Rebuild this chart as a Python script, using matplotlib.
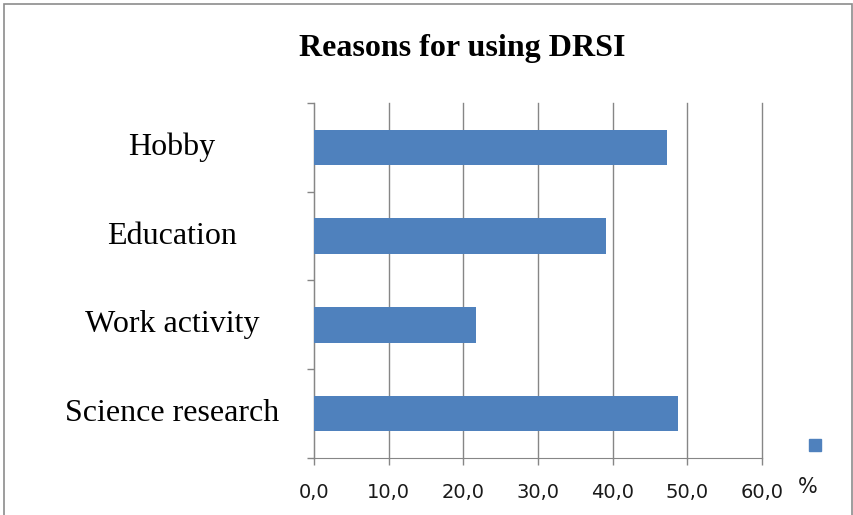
import matplotlib
matplotlib.use('Agg')
import matplotlib.pyplot as plt
from matplotlib.lines import Line2D
from matplotlib.patches import Rectangle

# survey shares, bottom category first
reasons = ['Science research', 'Work activity', 'Education', 'Hobby']
percent = [48.7, 21.7, 39.1, 47.3]
xticks = [0, 10, 20, 30, 40, 50, 60]
xticklabels = ['0,0', '10,0', '20,0', '30,0', '40,0', '50,0', '60,0']

bar_color = '#4F81BD'
line_color = '#868686'

fig = plt.figure(figsize=(8.54, 5.15), dpi=100)
ax = fig.add_axes([0.3677, 0.1107, 0.5246, 0.6893])

ypos = list(range(len(reasons)))
ax.barh(ypos, percent, height=0.4, color=bar_color, zorder=3)

ax.set_xlim(0, 60)
ax.set_ylim(-0.5, len(reasons) - 0.5)

ax.set_xticks(xticks)
ax.set_xticklabels(xticklabels, fontsize=14, family='DejaVu Sans', color='#1a1a1a')
ax.tick_params(axis='x', length=5, width=1, color=line_color, pad=13)

# category ticks sit between the bars
ax.set_yticks([y - 0.5 for y in ypos] + [len(reasons) - 0.5])
ax.set_yticklabels([])
ax.tick_params(axis='y', length=5, width=1, color=line_color)
for y, name in zip(ypos, reasons):
    fig.text(0.2014, ax.transData.transform((0, y))[1] / fig.bbox.height,
             name, ha='center', va='center', fontsize=23,
             family='Liberation Serif')

ax.grid(axis='x', color=line_color, linewidth=1, zorder=0)
for gl in ax.get_xgridlines():
    gl.set_clip_on(False)
for side in ['top', 'right']:
    ax.spines[side].set_visible(False)
ax.spines['left'].set_color(line_color)
ax.spines['bottom'].set_color(line_color)

fig.text(0.541, 0.905, 'Reasons for using DRSI', ha='center', va='center',
         fontsize=23, fontweight='bold', family='Liberation Serif')

# legend key: a small square with the series name under it
fig.add_artist(Line2D([0.9543], [0.136], marker='s', markersize=9,
                      color=bar_color, linestyle='none'))
fig.text(0.946, 0.054, '%', ha='center', va='center', fontsize=15,
         family='DejaVu Sans', color='#1a1a1a')

# chart frame
fig.add_artist(Rectangle((0.005, -0.02), 0.993, 1.012, fill=False,
                         edgecolor='#8c8c8c', linewidth=1.2,
                         transform=fig.transFigure))

fig.savefig('out.png', dpi=100)
